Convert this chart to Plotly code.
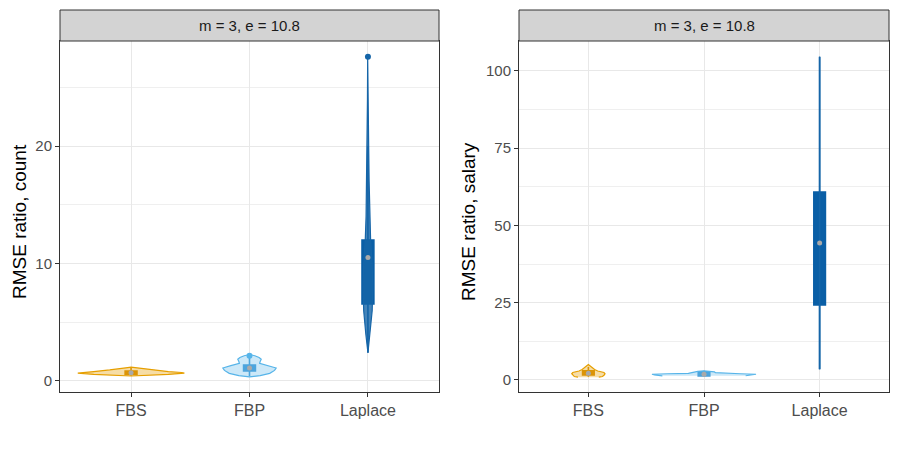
import plotly.graph_objects as go

methods = ["FBS", "FBP", "Laplace"]
strip_label = "m = 3, e = 10.8"

# violin outlines: value levels and relative half-width (1 = widest violin)
count_fbs_y = [0.42, 0.48, 0.56, 0.66, 0.72, 0.80, 0.94, 1.05, 1.12, 1.18]
count_fbs_w = [0.0, 0.4, 0.7, 1.0, 0.95, 0.7, 0.4, 0.2, 0.1, 0.0]
count_fbp_y = [0.34, 0.45, 0.65, 0.9, 1.1, 1.3, 1.5, 1.65, 1.85, 2.0, 2.15, 2.25]
count_fbp_w = [0.0, 0.2, 0.38, 0.47, 0.5, 0.35, 0.19, 0.2, 0.22, 0.18, 0.1, 0.0]
count_lap_y = [2.4, 4, 6, 8, 10, 12, 14, 17, 20, 24, 27.6]
count_lap_w = [0.0, 0.04, 0.08, 0.09, 0.08, 0.05, 0.035, 0.022, 0.014, 0.009, 0.005]

salary_fbs_y = [0.9, 1.1, 1.5, 2.0, 2.4, 2.9, 3.4, 4.0, 4.6, 5.0]
salary_fbs_w = [0.2, 0.27, 0.3, 0.32, 0.3, 0.18, 0.12, 0.07, 0.03, 0.0]
salary_fbp_y = [1.35, 1.6, 1.85, 2.0, 2.15, 2.35, 2.6, 2.8, 2.95]
salary_fbp_w = [0.8, 0.95, 1.0, 0.7, 0.3, 0.22, 0.2, 0.12, 0.0]
salary_lap_y = [3.5, 20, 40, 60, 80, 104.5]
salary_lap_w = [0.004, 0.006, 0.006, 0.005, 0.004, 0.003]

# box stats per method: lower whisker, q1, median, q3, upper whisker
count_lo = [0.45, 0.4, 2.4]
count_q1 = [0.55, 0.85, 6.55]
count_med = [0.7, 1.1, 10.5]
count_q3 = [0.85, 1.36, 12.0]
count_hi = [1.1, 1.95, 20.0]
count_out_x = ["FBP", "Laplace"]
count_out_y = [2.15, 27.6]

salary_lo = [1.0, 1.0, 3.5]
salary_q1 = [1.6, 1.3, 24.3]
salary_med = [2.2, 1.85, 44.3]
salary_q3 = [3.0, 2.6, 60.8]
salary_hi = [4.2, 3.0, 104.5]

line_col = ["#E69F00", "#56B4E9", "#1565A8"]
fill_col = ["rgba(230,159,0,0.35)", "rgba(86,180,233,0.3)", "rgba(21,101,168,0.8)"]
box_col = ["#D68F0A", "#4A9FD8", "#0A5FA6"]

# page has an 8px body margin, so the figure is 884x434 and positions are given in window pixels
W, H, OFF = 884, 434, 8


def px(x):
    return (x - OFF) / W


def py(y):
    return 1 - (y - OFF) / H


fig = go.Figure()


def add_panel(ax, violins, lo, q1, med, q3, hi, out_x, out_y):
    xa = "x" if ax == 1 else "x2"
    ya = "y" if ax == 1 else "y2"
    for i, (vy, vw) in enumerate(violins):
        pos = i + 1
        xs = [pos + w * 0.45 for w in vw] + [pos - w * 0.45 for w in vw[::-1]]
        ys = list(vy) + list(vy[::-1])
        fig.add_trace(go.Scatter(x=xs, y=ys, fill="toself", fillcolor=fill_col[i],
                                 line=dict(color=line_col[i], width=1.2),
                                 mode="lines", xaxis=xa, yaxis=ya, hoverinfo="skip"))
        fig.add_trace(go.Box(x=[pos], q1=[q1[i]], median=[med[i]], q3=[q3[i]],
                             lowerfence=[lo[i]], upperfence=[hi[i]],
                             width=0.1, whiskerwidth=0, fillcolor=box_col[i],
                             line=dict(color=box_col[i], width=1.6),
                             boxpoints=False, xaxis=xa, yaxis=ya))
    fig.add_trace(go.Scatter(x=[1, 2, 3], y=med, mode="markers",
                             marker=dict(color="#A9A9A9", size=5),
                             xaxis=xa, yaxis=ya))
    if out_x:
        fig.add_trace(go.Scatter(x=[methods.index(m) + 1 for m in out_x], y=out_y,
                                 mode="markers",
                                 marker=dict(color=[line_col[methods.index(m)] for m in out_x], size=6),
                                 xaxis=xa, yaxis=ya))


add_panel(1, [(count_fbs_y, count_fbs_w), (count_fbp_y, count_fbp_w), (count_lap_y, count_lap_w)],
          count_lo, count_q1, count_med, count_q3, count_hi, count_out_x, count_out_y)
add_panel(2, [(salary_fbs_y, salary_fbs_w), (salary_fbp_y, salary_fbp_w), (salary_lap_y, salary_lap_w)],
          salary_lo, salary_q1, salary_med, salary_q3, salary_hi, [], [])

font = "Liberation Sans, Arial, sans-serif"
ydom = [py(392), py(41)]
left_dom = [px(60), px(439)]
right_dom = [px(519), px(889)]
xcommon = dict(range=[0.4, 3.6], tickvals=[1, 2, 3], ticktext=methods, showgrid=True,
               gridcolor="#E8E8E8", gridwidth=1.2, zeroline=False, showline=True, mirror=True,
               linecolor="#333333", linewidth=1, ticks="outside", ticklen=4, tickcolor="#333333",
               tickfont=dict(size=16, color="#4D4D4D", family=font))
ycommon = dict(showgrid=True, gridcolor="#E8E8E8", gridwidth=1.2, zeroline=False, showline=True,
               mirror=True, linecolor="#333333", linewidth=1, ticks="outside", ticklen=4,
               tickcolor="#333333", tickfont=dict(size=15, color="#4D4D4D", family=font),
               domain=ydom)

fig.update_layout(
    width=W, height=H, showlegend=False,
    margin=dict(l=0, r=0, t=0, b=0),
    plot_bgcolor="white", paper_bgcolor="white",
    xaxis=dict(domain=left_dom, anchor="y", **xcommon),
    xaxis2=dict(domain=right_dom, anchor="y2", **xcommon),
    yaxis=dict(range=[-0.94, 28.94], tickvals=[0, 10, 20], anchor="x",
               minor=dict(tickvals=[5, 15, 25], showgrid=True, gridcolor="#EFEFEF", gridwidth=0.8),
               **ycommon),
    yaxis2=dict(range=[-3.9, 109.7], tickvals=[0, 25, 50, 75, 100], anchor="x2",
                minor=dict(tickvals=[12.5, 37.5, 62.5, 87.5], showgrid=True, gridcolor="#EFEFEF", gridwidth=0.8),
                **ycommon),
)

# facet strips
for x0, x1 in [left_dom, right_dom]:
    fig.add_shape(type="rect", xref="paper", yref="paper", x0=x0, x1=x1, y0=py(41), y1=py(10),
                  fillcolor="#D3D3D3", line=dict(color="#333333", width=1))
    fig.add_annotation(x=(x0 + x1) / 2, y=py(25.5), xref="paper", yref="paper", text=strip_label,
                       xanchor="center", yanchor="middle",
                       showarrow=False, font=dict(size=15, color="#1A1A1A", family=font))

fig.add_annotation(x=px(19), y=py(222), xref="paper", yref="paper", text="RMSE ratio, count",
                   xanchor="center", yanchor="middle",
                   textangle=-90, showarrow=False, font=dict(size=19, color="black", family=font))
fig.add_annotation(x=px(468), y=py(222), xref="paper", yref="paper", text="RMSE ratio, salary",
                   xanchor="center", yanchor="middle",
                   textangle=-90, showarrow=False, font=dict(size=19, color="black", family=font))

fig.write_html("out.html")
